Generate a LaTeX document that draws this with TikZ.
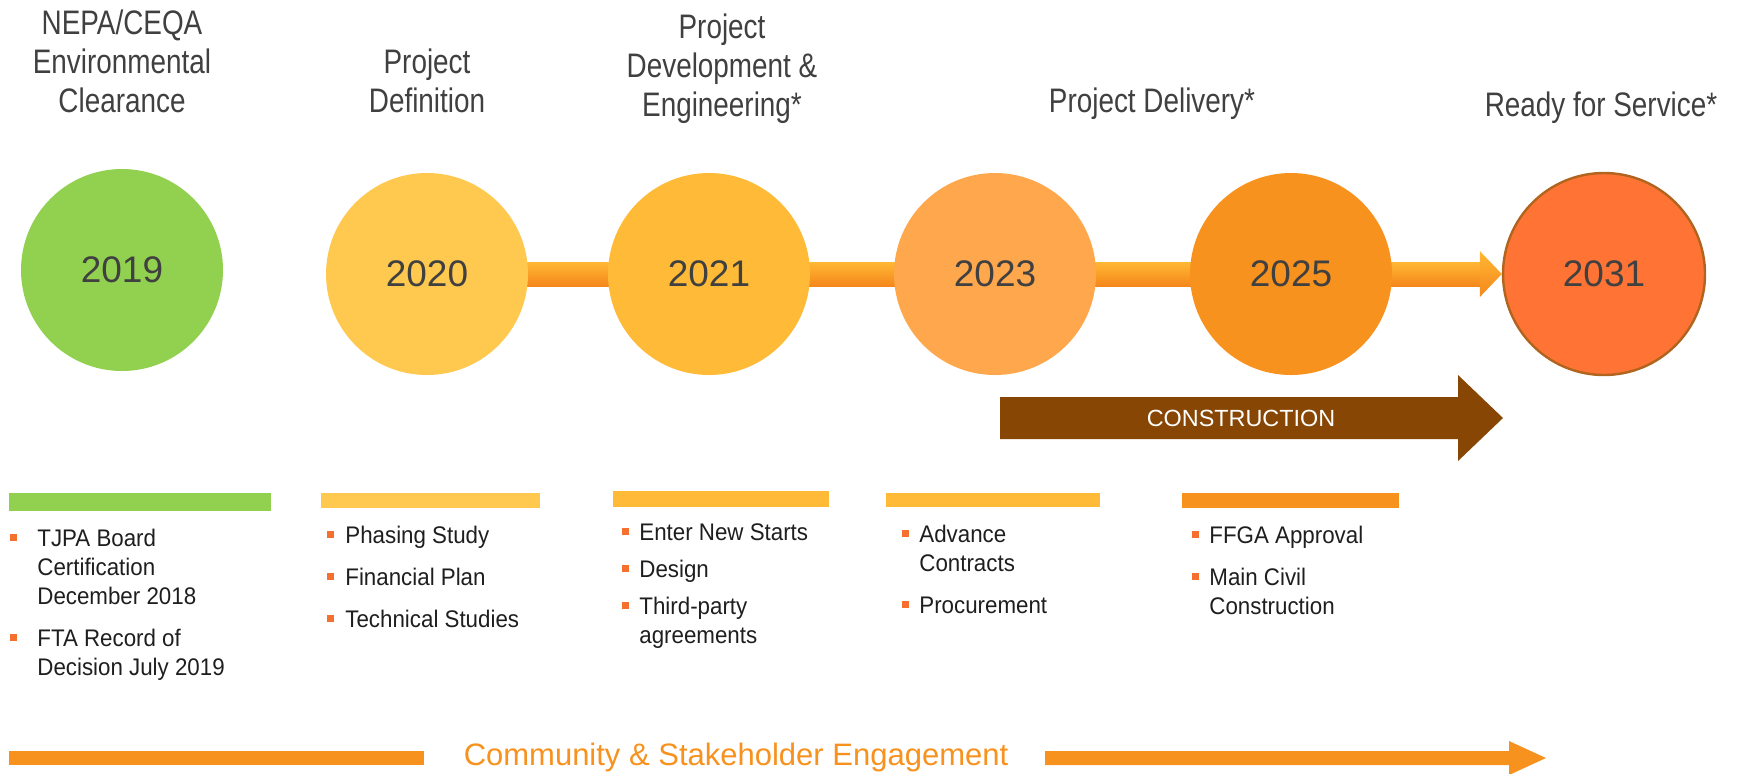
\documentclass[tikz,border=0pt]{standalone}
\usepackage{fontspec}
\setmainfont{Liberation Sans}
\newfontfamily\headfont[FakeStretch=0.82]{Liberation Sans}
\newfontfamily\itemfont[FakeStretch=0.93]{Liberation Sans}
\usetikzlibrary{backgrounds,calc}
\definecolor{headgray}{HTML}{404040}
\definecolor{itemblack}{HTML}{1E1E1E}
\definecolor{green19}{HTML}{92D050}
\definecolor{yel20}{HTML}{FFC84E}
\definecolor{yel21}{HTML}{FFBA37}
\definecolor{org23}{HTML}{FFA74C}
\definecolor{org25}{HTML}{F7921E}
\definecolor{red31}{HTML}{FF7435}
\definecolor{rim31}{HTML}{B0641E}
\definecolor{bartop}{HTML}{FFB834}
\definecolor{barmid}{HTML}{FFA24E}
\definecolor{barbot}{HTML}{F5871C}
\definecolor{brown}{HTML}{874603}
\definecolor{bulletred}{HTML}{F5702F}
\newcommand{\sqbullet}{\textcolor{bulletred}{\rule[2.6pt]{3.8pt}{3.8pt}}}
\newcommand{\itm}[1]{\llap{\sqbullet\hspace{#1}}}
\tikzset{
  year/.style={circle,minimum size=101pt,inner sep=0pt,text=headgray,
    font=\fontsize{18.5}{22}\selectfont},
  phase/.style={align=center,inner sep=0pt,text=headgray,
    font=\headfont\fontsize{17}{19.5}\selectfont},
  items/.style={align=left,anchor=north west,inner sep=0pt,text=itemblack,
    font=\itemfont\fontsize{12}{14.5}\selectfont},
}
\begin{document}
\begin{tikzpicture}[x=0.5pt,y=-0.5pt]
\useasboundingbox (0,0) rectangle (1738,773);
%%
\node (phase_0) at (122,61) [phase] {NEPA/CEQA\\Environmental\\Clearance};
\node (phase_1) at (427,80.5) [phase] {Project\\Definition};
\node (phase_2) at (722,69) [phase] {Project\\Development \&\\Engineering*};
\node (phase_3) at (1152,104) [phase] {Project Delivery*};
\node (phase_4) at (1601,108) [phase] {Ready for Service*};
%%
\node (year_2019) at (122,270) [year,fill=green19] {2019};
\node (year_2020) at (427,274) [year,fill=yel20] {2020};
\node (year_2021) at (709,274) [year,fill=yel21] {2021};
\node (year_2023) at (995,274) [year,fill=org23] {2023};
\node (year_2025) at (1291,274) [year,fill=org25] {2025};
\node (year_2031) at (1604,274) [year,fill=red31,draw=rim31,line width=1.2pt] {2031};
\begin{scope}[on background layer]
  \shade [top color=bartop,middle color=barmid,bottom color=barbot]
    ($(year_2020.center)+(0,-12)$) rectangle ($(year_2031.west)+(-22,12)$);
  \shade [top color=bartop,middle color=barmid,bottom color=barbot]
    ($(year_2031.west)+(-22,-23)$) -- (year_2031.west) -- ($(year_2031.west)+(-22,23)$) -- cycle;
\end{scope}
%%
\fill [brown] (1000,397) -- (1458,397) -- (1458,375) -- (1503,418) -- (1458,461) -- (1458,439) -- (1000,439) -- cycle;
\node (construction) at (1241,418) [text=white,inner sep=0pt,font=\fontsize{11.7}{14}\selectfont] {CONSTRUCTION};
%%
\fill [green19] (9,493) rectangle (271,511);
\fill [yel20] (321,493) rectangle (540,508);
\fill [yel21] (613,491) rectangle (829,507);
\fill [yel21] (886,493) rectangle (1100,507);
\fill [org25] (1182,493) rectangle (1399,508);
\node (items_0) at (37,528.5) [items] {\itm{10pt}TJPA Board\\Certification\\December 2018\\[6.5pt]\itm{10pt}FTA Record of\\Decision July 2019};
\node (items_1) at (345,525.5) [items] {\itm{5.5pt}Phasing Study\\[6.5pt]\itm{5.5pt}Financial Plan\\[6.5pt]\itm{5.5pt}Technical Studies};
\node (items_2) at (639,523.5) [items] {\itm{5pt}Enter New Starts\\[4pt]\itm{5pt}Design\\[4pt]\itm{5pt}Third-party\\agreements};
\node (items_3) at (919,524.5) [items] {\itm{5pt}Advance\\Contracts\\[6.5pt]\itm{5pt}Procurement};
\node (items_4) at (1209,525.5) [items] {\itm{5pt}FFGA Approval\\[6.5pt]\itm{5pt}Main Civil\\Construction};
%%
\node (engagement) at (736,757) [text=org25,inner sep=0pt,font=\fontsize{15.5}{18}\selectfont] {Community \& Stakeholder Engagement};
\fill [org25] (9,751) rectangle (424,765);
\fill [org25] (1045,751) -- (1509,751) -- (1509,741) -- (1546,758) -- (1509,775) -- (1509,765) -- (1045,765) -- cycle;
%
\end{tikzpicture}
\end{document}
